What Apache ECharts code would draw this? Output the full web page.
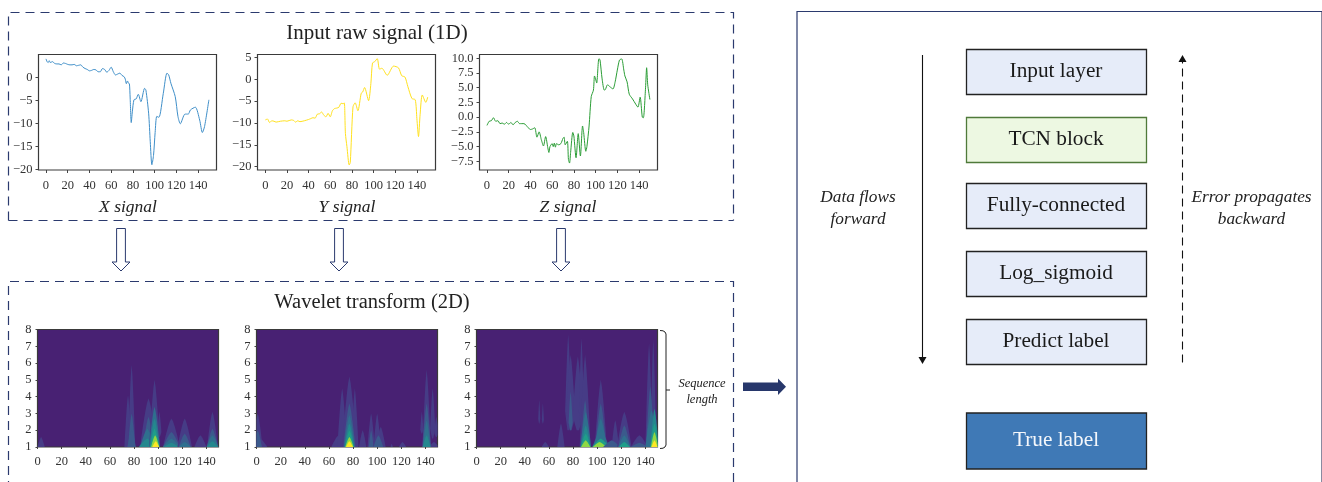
<!DOCTYPE html>
<html>
<head>
<meta charset="utf-8">
<title>Signal to wavelet to TCN pipeline</title>
<script src="https://cdn.jsdelivr.net/npm/echarts@6/dist/echarts.min.js"></script>
<style>html,body{margin:0;padding:0;background:#fff}#c{width:1322px;height:482px}</style>
</head>
<body>
<div id="c"></div>
<script>
// ---------- data ----------
const xSignal = [[0,4],[1,3.4],[2,3.2],[3,3.6],[4,3.2],[6,3.4],[8,3],[10,2.9],[12,2.9],[14,2.7],[16,3.1],[18,3],[20,2.8],[22,2.7],[24,2.7],[26,2.8],[28,2.5],[30,2.6],[32,2.7],[34,2.2],[36,1.9],[38,1.7],[40,1.4],[42,1.5],[44,1.7],[46,1.6],[48,1.2],[50,1.2],[52,1.9],[54,1.7],[56,1.1],[58,1.5],[60,2.2],[62,1.2],[64,0.5],[66,0.7],[68,0.9],[70,0.4],[72,0.1],[73,-0.4],[74,-1.4],[75,-0.8],[76,-1.3],[76.8,-1.4],[77.5,-4.5],[78.5,-9.85],[79.5,-7.5],[81,-4.9],[83,-4.7],[85,-3.7],[87.4,-5.3],[90.8,-2.4],[92,-2.8],[94.5,-7.8],[96,-14],[97.5,-19],[99,-17],[100.5,-12],[102,-8.5],[104,-8.7],[108,-3.5],[111.4,0.9],[113,0.5],[115,-1.3],[119,-4.2],[121.5,-8.5],[123.7,-10.1],[128,-8],[131,-8],[133,-7.1],[137.5,-6.5],[141.5,-9.3],[144,-12],[146,-10.7],[150,-4.9]];
const ySignal = [[0,-9.3],[2,-9.1],[4,-9.9],[6,-9.5],[8,-9.6],[10,-9.8],[14,-9.6],[18,-9.5],[20,-9.6],[24,-9.3],[26,-9.4],[28,-9.8],[30,-9.5],[32,-9.7],[36,-9.5],[40,-9.2],[42,-9],[44,-8.8],[46,-8.9],[48,-8],[50,-7.9],[52,-7.5],[54,-8.2],[56,-8.6],[58,-7.8],[60,-8.6],[62,-7.2],[64,-6.7],[66,-6.6],[68,-6.4],[70,-5.5],[72,-5.6],[73,-5.4],[74,-12.4],[75.4,-15.4],[77.5,-19.6],[78.5,-19],[81,-6.3],[83,-5.4],[85.5,-7.2],[88.6,-3.2],[90,-2.9],[91.7,-1.9],[95.4,-4.9],[97.5,-1],[99,3.7],[101,4],[103.4,4.7],[105.5,2.3],[107.7,2.5],[112.6,0.9],[118.5,3],[123,2.6],[126,0.8],[129,0.5],[131.7,-1.7],[135.4,-4.4],[138.5,-4.7],[140,-9],[141.5,-13.1],[143,-8],[145,-3.6],[148.3,-5.3],[150,-4.1]];
const zSignal = [[0,-1.4],[2,-0.7],[4,-0.6],[6,-0.1],[8,-0.7],[10,-0.6],[12,-1.1],[14,-1],[16,-1.2],[18,-0.9],[20,-1.2],[22,-0.9],[24,-1.3],[26,-0.9],[28,-0.7],[30,-1.1],[34,-1.1],[38,-1.8],[40,-2.1],[42,-2],[44,-1.8],[46,-3.4],[48,-2.5],[50,-3.8],[52,-4.9],[54,-3.3],[56,-5.2],[57,-6],[58,-5],[60,-4.5],[61,-5],[62,-4.4],[63,-5.1],[64,-4.5],[66,-4.7],[68,-4.5],[70,-3.6],[71,-3.4],[72,-4.7],[74,-4.1],[75,-7.2],[76,-7.8],[77,-6],[79,-2.6],[80,-3.2],[82,-6.9],[84,-2.8],[86,-6.6],[88,-1.5],[89,-2.6],[91,-5.8],[92,-5],[94,-1.5],[96,3.5],[98,4.6],[99,7],[100,6.5],[101,5.8],[103,9.9],[104,9.8],[106,6.5],[108,4.6],[109,4.7],[111,5.5],[113,5.2],[116,4.8],[118,6],[120,8],[122,9.7],[124,9.9],[126,8],[127,7],[129,6],[131,3.9],[134,3.1],[137,2.2],[139,1.7],[141,3.4],[143,0],[144,-0.1],[146,5],[147,8.4],[148,5.5],[150,3]];

const xTicks = [0,20,40,60,80,100,120,140];
const xSignalTicks = [0,-5,-10,-15,-20];
const ySignalTicks = [5,0,-5,-10,-15,-20];
const zSignalTicks = [10,7.5,5,2.5,0,-2.5,-5,-7.5];
const scaleTicks = [1,2,3,4,5,6,7,8];

// wavelet energy patches: [centre, half width, lower scale, upper scale, energy band]
const xWavelet = [[3,3,1,1.6,1],[75,3,1,4.1,1],[78,3,1,5.9,1],[78,3,1,3,2],[78,3.5,1,2,2],[92,7,1,3.9,1],[92,4.5,1,2.8,2],[91,6,1,2.1,3],[91,7,1,1.5,4],[97,4.5,1,5,1],[101,2,1.6,3.1,1],[97,4.5,1,3.4,3],[97,4,1,2.7,4],[97,3.8,1,2.1,5],[97.5,3.4,1,1.7,7],[98,2.8,1,1.35,8],[111,7,1,2.7,1],[111,7,1,1.9,2],[111,7,1,1.5,3],[111,6,1,1.25,4],[122,6,1,2.7,1],[122,5,1,1.8,2],[122,5,1,1.3,3],[135,5,1,1.7,1],[145,4.5,1,3.1,1],[145,4.5,1,2.1,2],[145,5,1,1.7,3],[145,4.5,1,1.35,4]];
const yWavelet = [[1,4,1,3,1],[3,6,1,1.5,1],[1,3.5,1,2,2],[68,6,1,1.7,1],[71,4,1,4.5,1],[77,6,1,5.2,1],[81.5,3,1,4.5,1],[77,5,1,3.6,2],[77,4.5,1,2.9,3],[77,4,1,2.4,4],[77,3.6,1,2,5],[77,3.4,1,1.6,7],[77,2.8,1,1.35,8],[88,3,1,2,1],[95,3,1,3,1],[95,2,1,2,2],[100,3,1,3,1],[103,4,1,2.2,1],[101,4,1,1.7,2],[112,1,1,1.2,1],[121,3,1,1.3,1],[137,1.5,1.8,3.1,1],[141,3.5,1,5.6,1],[146,2.5,1.5,4.5,1],[149,2,1.6,2.8,1],[147,4,1,1.3,1],[141,3.5,1,3.6,2],[141,3.2,1,2.6,3],[141,3.2,1,1.7,4]];
const zWavelet = [[52,1,2.4,3.8,1],[55,1,2.4,3.6,1],[57,3,1,1.3,1],[70,3,1,2.4,1],[76,3,2,7.7,1],[78,4.5,2,6.5,1],[84,5,2,6.4,1],[87,2.5,2,7.5,1],[90,4.5,1,6.5,1],[78,2,2,4.3,2],[90,3.5,1,3.8,2],[90.5,4.5,1,3.1,3],[90.5,4,1,2.3,4],[90.5,4,1,1.8,5],[90.5,3.8,1,1.4,7],[103,5,1,5,1],[103,4.5,1,3.6,2],[103,5,1,2.7,3],[103,7,1,2,3],[103,7,1,1.5,5],[102,5.5,1,1.3,7],[115,3,1,2.6,1],[112,7,1,1.4,2],[122.5,6,1,3.1,1],[122.5,5,1,2.3,2],[122.5,5,1,1.7,3],[122.5,4.5,1,1.3,5],[135,7,1,1.7,1],[135,7,1,1.25,2],[143,3,1,7.2,1],[146.5,2.5,1,7.4,1],[144,3.5,1,4.6,2],[145,5,1,3.2,3],[147.5,3.5,1,3.3,4],[147.5,3.5,1,2.4,5],[147.5,3,1,1.9,7],[147.5,2.5,1,1.4,8]];

const signalLabels = ['X signal','Y signal','Z signal'];
const layerLabels = ['Input layer','TCN block','Fully-connected','Log_sigmoid','Predict label','True label'];

// ---------- styling ----------
const SERIF = '"Liberation Serif", serif';
const NAVY = '#2b3a6e';
const VIRIDIS = ['#482173','#463c86','#3b5a8c','#2f6f8e','#24878e','#1f9e89','#35b779','#8fd744','#fde725'];
const TICKCOL = '#333';

const grids = [
  {left:38.5,  top:54.5,  width:178, height:115.5},
  {left:257.5, top:54.5,  width:178, height:115.5},
  {left:479.5, top:54.5,  width:178, height:115.5},
  {left:37.5,  top:329.5, width:181, height:117.5, backgroundColor:VIRIDIS[0]},
  {left:256.5, top:329.5, width:181, height:117.5, backgroundColor:VIRIDIS[0]},
  {left:476.5, top:329.5, width:181, height:117.5, backgroundColor:VIRIDIS[0]}
].map(g => Object.assign({show:true, borderColor:'#3a3a3a', borderWidth:1.2, containLabel:false}, g));

const tickFmt = v => String(v).replace('-', '\u2212');
const labelStyle = {color:TICKCOL, fontFamily:SERIF, fontSize:12.5, showMinLabel:true, showMaxLabel:true, hideOverlap:false};

function xAxis(i, min, max, labelMargin, tick) {
  return {type:'value', gridIndex:i, min, max, position:'bottom', splitLine:{show:false},
    axisLine:{show:false, onZero:false},
    axisTick:{show:true, length:tick, lineStyle:{color:'#444', width:1}, customValues:xTicks},
    axisLabel:Object.assign({}, labelStyle, {customValues:xTicks, formatter:tickFmt, margin:labelMargin})};
}
function yAxis(i, min, max, ticks, margin, tick) {
  const fmt = ticks === zSignalTicks ? (v => tickFmt(v.toFixed(1))) : tickFmt;
  return {type:'value', gridIndex:i, min, max, position:'left', splitLine:{show:false},
    axisLine:{show:false, onZero:false},
    axisTick:{show:true, length:tick, lineStyle:{color:'#444', width:1}, customValues:ticks},
    axisLabel:Object.assign({}, labelStyle, {customValues:ticks, formatter:fmt, margin})};
}

function renderPatch(params, api) {
  const cx = api.value(0), hw = api.value(1), lo = api.value(2), hi = api.value(3), band = api.value(4);
  const N = 10, left = [], right = [];
  for (let k = 0; k <= N; k++) {
    const t = k / N;
    const w = hw * Math.pow(1 - t, 0.75) * (lo > 1 ? Math.min(1, t * 4 + 0.2) : 1);
    const y = lo + (hi - lo) * t;
    left.push(api.coord([Math.max(0, cx - w), y]));
    right.unshift(api.coord([Math.min(150, cx + w), y]));
  }
  return {type:'polygon', shape:{points:left.concat(right)}, style:{fill:VIRIDIS[band]}};
}
function lineSeries(i, data, color) {
  return {type:'line', xAxisIndex:i, yAxisIndex:i, data, showSymbol:false, smooth:0.25, silent:true,
    lineStyle:{color, width:1}, animation:false};
}
function patchSeries(i, data) {
  return {type:'custom', xAxisIndex:i, yAxisIndex:i, data, renderItem:renderPatch, silent:true,
    encode:{x:0, y:3}, animation:false, clip:true};
}

// ---------- helpers for the diagram furniture ----------
const T = (text, x, y, size, extra) => ({type:'text', x, y, silent:true,
  style:Object.assign({text, fontFamily:SERIF, fontSize:size, fill:'#222', align:'center', verticalAlign:'middle'}, extra||{})});
const hollowArrow = cx => ({type:'polygon', silent:true,
  shape:{points:[[cx-4.4,228.5],[cx+4.4,228.5],[cx+4.4,262],[cx+9,262],[cx,271],[cx-9,262],[cx-4.4,262]]},
  style:{fill:'#fff', stroke:NAVY, lineWidth:1}});
const layerBox = (i, top, bottom, fill, stroke, txt) => [
  {type:'rect', silent:true, shape:{x:966.5, y:top+0.5, width:180, height:bottom-top}, style:{fill, stroke, lineWidth:1.3}},
  T(layerLabels[i], 1056, (top+bottom)/2-0.5, 21.3, {fill:txt||'#1a1a1a'})
];

const elements = [
  {type:'polyline', silent:true, shape:{points:[[8.5,220.5],[8.5,12.5],[733.5,12.5],[733.5,220.5]]}, style:{fill:'none', stroke:NAVY, lineWidth:1.2, lineDash:[9,6]}},
  {type:'line', silent:true, shape:{x1:8.5,y1:220.5,x2:733.5,y2:220.5}, style:{stroke:NAVY, lineWidth:1.2, lineDash:[9,6]}},
  {type:'polyline', silent:true, shape:{points:[[8.5,490],[8.5,281.5],[733.5,281.5],[733.5,490]]}, style:{fill:'none', stroke:NAVY, lineWidth:1.2, lineDash:[9,6]}},
  T('Input raw signal (1D)', 377, 33, 21),
  T('Wavelet transform (2D)', 372, 303, 20.5),
  T(signalLabels[0], 128, 207, 17.5, {fontStyle:'italic'}),
  T(signalLabels[1], 347, 207, 17.5, {fontStyle:'italic'}),
  T(signalLabels[2], 568, 207, 17.5, {fontStyle:'italic'}),
  hollowArrow(121), hollowArrow(339), hollowArrow(561),
  {type:'polyline', silent:true, shape:{points:[[660,330.5],[663,330.8],[665,332],[666,334],[666,445],[665,447],[663,448.2],[660,448.5]]}, style:{fill:'none', stroke:'#222', lineWidth:1}},
  {type:'line', silent:true, shape:{x1:666,y1:390,x2:670,y2:390}, style:{stroke:'#222', lineWidth:1}},
  T('Sequence', 702, 384, 12.5, {fontStyle:'italic'}),
  T('length', 702, 400, 12.5, {fontStyle:'italic'}),
  {type:'polygon', silent:true, shape:{points:[[743,382.5],[778,382.5],[778,378.5],[786,386.7],[778,395],[778,391],[743,391]]}, style:{fill:'#27376b'}},
  {type:'polyline', silent:true, shape:{points:[[797,490],[797,11.5],[1322,11.5]]}, style:{fill:'none', stroke:NAVY, lineWidth:1.2}},
  {type:'line', silent:true, shape:{x1:1321.5,y1:12,x2:1321.5,y2:490}, style:{stroke:'#8a8aa0', lineWidth:1}},
  ...layerBox(0, 49, 94, '#e6ecf9', '#222'),
  ...layerBox(1, 117, 162, '#edf8e2', '#4f7a3a'),
  ...layerBox(2, 183, 228, '#e6ecf9', '#222'),
  ...layerBox(3, 251, 296, '#e6ecf9', '#222'),
  ...layerBox(4, 319, 364, '#e6ecf9', '#222'),
  ...layerBox(5, 412.5, 468.5, '#3f79b6', '#222', '#f4f7fb'),
  {type:'line', silent:true, shape:{x1:922.5,y1:55,x2:922.5,y2:358}, style:{stroke:'#111', lineWidth:1.1}},
  {type:'polygon', silent:true, shape:{points:[[918.5,357],[926.5,357],[922.5,364]]}, style:{fill:'#111'}},
  {type:'line', silent:true, shape:{x1:1182.5,y1:362.5,x2:1182.5,y2:62}, style:{stroke:'#111', lineWidth:1.1, lineDash:[8,5]}},
  {type:'polygon', silent:true, shape:{points:[[1178.5,62],[1186.5,62],[1182.5,55]]}, style:{fill:'#111'}},
  T('Data flows', 858, 197, 17.3, {fontStyle:'italic'}),
  T('forward', 858, 219, 17.3, {fontStyle:'italic'}),
  T('Error propagates', 1251.5, 197, 17.3, {fontStyle:'italic'}),
  T('backward', 1251.5, 219, 17.3, {fontStyle:'italic'})
];

const option = {
  animation:false,
  backgroundColor:'#fff',
  grid:grids,
  xAxis:[
    xAxis(0,-6.9,157,9,3), xAxis(1,-7.2,157.2,9,3), xAxis(2,-6.9,157,9,3),
    xAxis(3,0,150,8,2), xAxis(4,0,150,8,2), xAxis(5,0,150,8,2)
  ],
  yAxis:[
    yAxis(0,-20.15,4.95,xSignalTicks,6,3),
    yAxis(1,-20.75,5.65,ySignalTicks,6,3),
    yAxis(2,-8.98,10.65,zSignalTicks,6,3),
    yAxis(3,1,8,scaleTicks,6,2), yAxis(4,1,8,scaleTicks,6,2), yAxis(5,1,8,scaleTicks,6,2)
  ],
  series:[
    lineSeries(0,xSignal,'#3f8fc9'),
    lineSeries(1,ySignal,'#ffe21f'),
    lineSeries(2,zSignal,'#2a9d35'),
    patchSeries(3,xWavelet), patchSeries(4,yWavelet), patchSeries(5,zWavelet)
  ],
  graphic:{elements}
};
const chart = echarts.init(document.getElementById('c'), null, {renderer:'canvas', width:1322, height:482});
chart.setOption(option);
</script>
</body>
</html>
